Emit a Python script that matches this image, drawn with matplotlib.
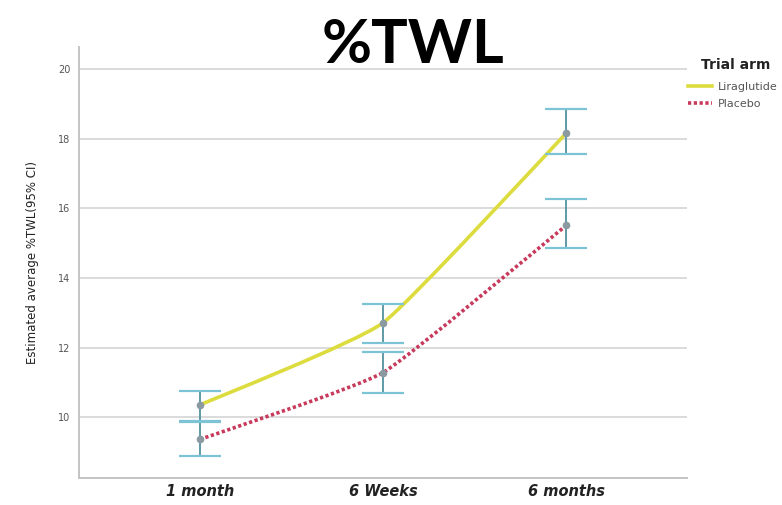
import matplotlib
matplotlib.use("Agg")
import matplotlib.pyplot as plt
from matplotlib.lines import Line2D
from matplotlib.path import Path
from matplotlib.patches import PathPatch

timepoints = ["1 month", "6 Weeks", "6 months"]
arms = ["Liraglutide", "Placebo"]

lira_mean = [10.35, 12.71, 18.16]
lira_lo = [9.88, 12.13, 17.55]
lira_hi = [10.76, 13.24, 18.86]

placebo_mean = [9.36, 11.28, 15.51]
placebo_lo = [8.89, 10.70, 14.87]
placebo_hi = [9.86, 11.87, 16.27]

yticks = [10, 12, 14, 16, 18, 20]

LIRA_COLOR = "#dcdc3e"
PLACEBO_COLOR = "#c83a5c"
PLACEBO_LS = (0, (0.9, 0.7))

W, H = 782, 505
fig = plt.figure(figsize=(W / 100, H / 100), dpi=100)
ax = fig.add_axes([0.101, 0.0535, 0.7775, 0.8535])

x = list(range(len(timepoints)))


def smooth_path(xs, ys, k=1 / 14):
    """Lightly rounded cubic Bezier path through the given points."""
    pts = list(zip(xs, ys))
    ext = [pts[0]] + pts + [pts[-1]]
    verts = [pts[0]]
    codes = [Path.MOVETO]
    for i in range(1, len(ext) - 2):
        p0, p1, p2, p3 = ext[i - 1], ext[i], ext[i + 1], ext[i + 2]
        c1 = (p1[0] + (p2[0] - p0[0]) * k, p1[1] + (p2[1] - p0[1]) * k)
        c2 = (p2[0] - (p3[0] - p1[0]) * k, p2[1] - (p3[1] - p1[1]) * k)
        verts += [c1, c2, p2]
        codes += [Path.CURVE4] * 3
    return Path(verts, codes)


def draw_arm(mean, lo, hi, color, ls, lw):
    ax.add_patch(PathPatch(smooth_path(x, mean), facecolor="none", edgecolor=color,
                           linestyle=ls, linewidth=lw, zorder=3))
    yerr = [[m - l for m, l in zip(mean, lo)], [h - m for m, h in zip(mean, hi)]]
    # darker teal stem, light blue caps
    ax.errorbar(x, mean, yerr=yerr, fmt="none", ecolor="#5e9aa6",
                elinewidth=1.4, capsize=0, zorder=4)
    ax.errorbar(x, mean, yerr=yerr, fmt="none", ecolor="#7cc3d6",
                elinewidth=0, capsize=15, capthick=1.6, zorder=4)
    ax.plot(x, mean, "o", color="#8a9aa0", markersize=4.5, zorder=5)


draw_arm(lira_mean, lira_lo, lira_hi, LIRA_COLOR, "-", 2.6)
draw_arm(placebo_mean, placebo_lo, placebo_hi, PLACEBO_COLOR, PLACEBO_LS, 2.6)

ax.set_xlim(-0.66, 2.66)
ax.set_ylim(8.25, 20.64)
ax.set_yticks(yticks)
ax.set_yticklabels([str(t) for t in yticks], fontsize=7, color="#555555")
ax.set_xticks(x)
ax.set_xticklabels(timepoints, fontsize=10.5, fontweight="bold", fontstyle="italic",
                   color="#222222")
ax.tick_params(axis="both", length=0, pad=6)
ax.tick_params(axis="x", pad=4)
ax.grid(axis="y", color="#d4d4d4", linewidth=1.2)
ax.set_axisbelow(True)
for s in ["top", "right"]:
    ax.spines[s].set_visible(False)
for s in ["left", "bottom"]:
    ax.spines[s].set_color("#c4c4c4")
    ax.spines[s].set_linewidth(1.4)

ax.set_ylabel("Estimated average %TWL(95% CI)", fontsize=8.5, color="#222222", labelpad=14)

fig.text(0.528, 1 - 63 / H, "%TWL", fontsize=44, fontweight="bold", ha="center",
         va="baseline", family="Lato", color="black")

# legend heading, slightly indented from the line samples
fig.text(701 / W, 1 - 65 / H, "Trial arm", fontsize=10, fontweight="bold",
         ha="left", va="center", color="#222222")

handles = [Line2D([0], [0], color=LIRA_COLOR, lw=2.6),
           Line2D([0], [0], color=PLACEBO_COLOR, lw=2.6, linestyle=PLACEBO_LS)]
leg = fig.legend(handles, arms, loc="upper left",
                 bbox_to_anchor=(688 / W, 1 - 82 / H), frameon=False, fontsize=8,
                 handlelength=2.2, handletextpad=0.5, labelspacing=0.6,
                 borderaxespad=0, borderpad=0)
for t in leg.get_texts():
    t.set_color("#555555")

fig.savefig("out.png", dpi=100, facecolor="white")
